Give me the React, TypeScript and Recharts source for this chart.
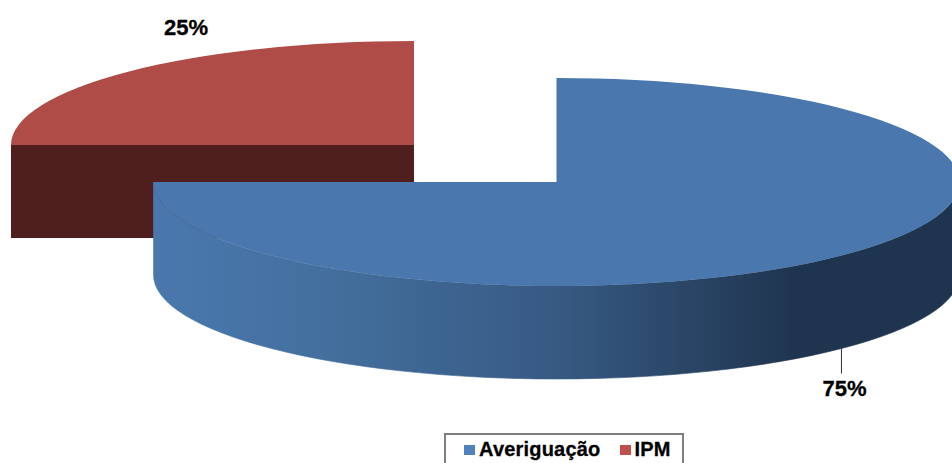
import { PieChart, Pie, Legend } from "recharts";

const categories = ["Averiguação", "IPM"];
const values = [75, 25];
const colors = ["#4a78ae", "#b04c48"];
const legendColors = ["#4f81bd", "#c0504d"];
const sideColors = ["url(#blueWall)", "#4f1f1e"];

// the back slice has to be painted first, the big slice covers its wall
const tableData = categories
  .map((name, i) => ({ name, value: values[i], fill: colors[i], side: sideColors[i] }))
  .reverse();

const WIDTH = 952;
const HEIGHT = 463;
const CX = 556.5;
const CY = 182;
const RX = 403;
const RY = 104;
const DEPTH = 93;
const RADIAN = Math.PI / 180;

// exploded look: how far each slice is pulled off the pie centre
const explode: Record<string, [number, number]> = {
  Averiguação: [0, 0],
  IPM: [-142.5, -37],
};

// where the percentage sits compared to the middle of the slice rim
const labelOffset: Record<string, [number, number]> = {
  Averiguação: [3, 47],
  IPM: [57, -36],
};

function rim(cx: number, cy: number, angle: number) {
  return {
    x: cx + RX * Math.cos(-angle * RADIAN),
    y: cy + RY * Math.sin(-angle * RADIAN),
  };
}

function Slice3D(props: any) {
  const { startAngle, endAngle, fill, name, side } = props;
  const [dx, dy] = explode[name] ?? [0, 0];
  const cx = CX + dx;
  const cy = CY + dy;
  const a = rim(cx, cy, startAngle);
  const b = rim(cx, cy, endAngle);
  const large = Math.abs(startAngle - endAngle) > 180 ? 1 : 0;
  const mid = (startAngle + endAngle) / 2;

  const from = Math.min(startAngle, 0);
  const to = Math.max(endAngle, -180);
  let wall = null;
  if (from > to) {
    const p = rim(cx, cy, from);
    const q = rim(cx, cy, to);
    // thin stroke so nothing behind bleeds through the seam with the top face
    wall = (
      <path
        d={`M${p.x},${p.y} A${RX},${RY} 0 0 1 ${q.x},${q.y} L${q.x},${q.y + DEPTH} A${RX},${RY} 0 0 0 ${p.x},${p.y + DEPTH} Z`}
        fill={side}
        stroke={side}
        strokeWidth={0.6}
      />
    );
  }

  return (
    <g>
      {mid > 0 && (
        <path
          d={`M${cx},${cy} L${a.x},${a.y} L${a.x},${a.y + DEPTH} L${cx},${cy + DEPTH} Z`}
          fill={side}
        />
      )}
      {wall}
      <path
        d={`M${cx},${cy} L${a.x},${a.y} A${RX},${RY} 0 ${large} 1 ${b.x},${b.y} Z`}
        fill={fill}
      />
    </g>
  );
}

function SliceLabel(props: any) {
  const { midAngle, name, value } = props;
  const [dx, dy] = explode[name] ?? [0, 0];
  const [ox, oy] = labelOffset[name] ?? [0, 0];
  const p = rim(CX + dx, CY + dy, midAngle);
  const front = midAngle < 0;
  const baseY = p.y + (front ? DEPTH : 0);
  return (
    <g>
      {front && <line x1={p.x} y1={baseY} x2={p.x} y2={baseY + 25} stroke="#333" strokeWidth={1} />}
      <text
        x={p.x + ox}
        y={baseY + oy}
        textAnchor="middle"
        fontFamily="'Liberation Sans', Arial, sans-serif"
        fontWeight="bold"
        fontSize={22}
        fill="#000"
        stroke="#000"
        strokeWidth={0.3}
      >
        {`${value}%`}
      </text>
    </g>
  );
}

function LegendBox() {
  return (
    <div
      style={{
        boxSizing: "border-box",
        width: 240,
        height: 40,
        border: "2px solid #7f7f7f",
        background: "#fff",
        display: "flex",
        alignItems: "flex-start",
        paddingLeft: 18,
        paddingTop: 3,
        fontFamily: "'Liberation Sans', Arial, sans-serif",
        fontWeight: "bold",
        fontSize: 20,
        letterSpacing: 0.2,
        lineHeight: "23px",
        color: "#000",
        WebkitTextStroke: "0.3px #000",
      }}
    >
      {categories.map((name, i) => (
        <span key={name} style={{ display: "flex", alignItems: "center", marginRight: 19 }}>
          <span style={{ width: 11, height: 10, background: legendColors[i], marginRight: 4 }} />
          {name}
        </span>
      ))}
    </div>
  );
}

export default function App() {
  return (
    <div style={{ position: "absolute", left: 0, top: 0, width: WIDTH, height: HEIGHT, overflow: "hidden", background: "#fff" }}>
      <PieChart width={WIDTH} height={HEIGHT} margin={{ top: 0, right: 0, bottom: 0, left: 0 }}>
        <defs>
          <linearGradient id="blueWall" x1="0" y1="0" x2="1" y2="0">
            <stop offset="0" stopColor="#4a78ae" />
            <stop offset="0.2" stopColor="#44709f" />
            <stop offset="0.5" stopColor="#375a83" />
            <stop offset="0.8" stopColor="#1f344e" />
            <stop offset="1" stopColor="#1f344e" />
          </linearGradient>
        </defs>
        <Pie
          data={tableData}
          dataKey="value"
          nameKey="name"
          cx={CX}
          cy={CY}
          outerRadius={RX}
          startAngle={180}
          endAngle={-180}
          stroke="none"
          shape={Slice3D}
          label={SliceLabel}
          labelLine={false}
          isAnimationActive={false}
        />
        <Legend
          content={LegendBox}
          wrapperStyle={{ left: 444, top: 433, bottom: "auto", width: 240, height: 40 }}
        />
      </PieChart>
    </div>
  );
}
